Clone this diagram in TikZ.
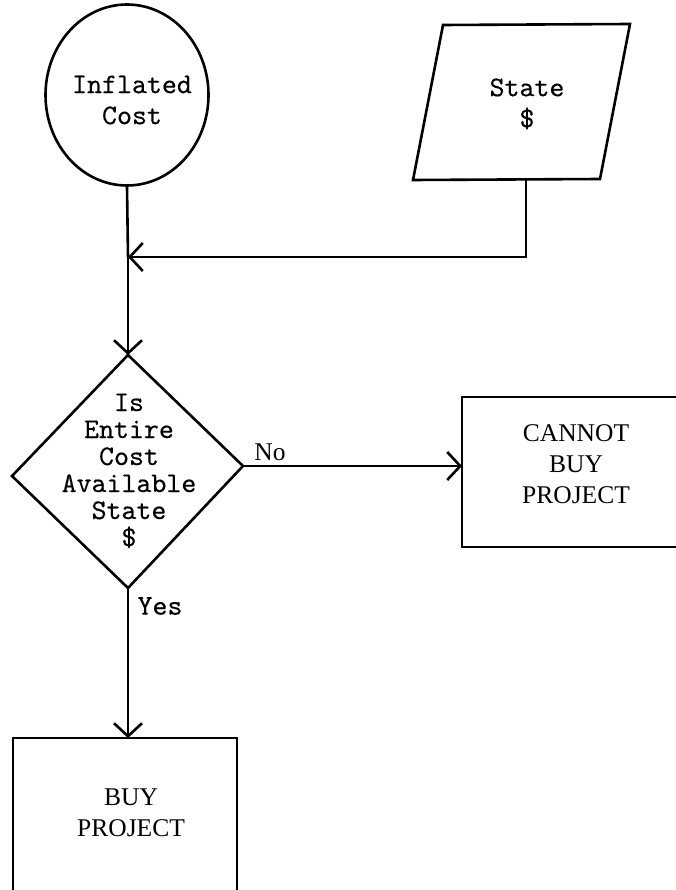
\documentclass[tikz,border=0pt]{standalone}
\usepackage{fontspec}
\usetikzlibrary{arrows.meta,shapes.geometric}
\newfontfamily\twfont[FakeBold=0.3]{lmmono10-regular.otf}
\newfontfamily\srfont{Liberation Serif}
\tikzset{
  shapeline/.style={draw=black, line width=2.6pt, line join=miter},
  conn/.style={draw=black, line width=2.6pt, -{Straight Barb[length=13pt,width=28pt]}},
  plain/.style={draw=black, line width=2.6pt},
  twtext/.style={font=\twfont\fontsize{28.5}{27}\selectfont, align=center, inner sep=0pt},
  twtextb/.style={font=\twfont\fontsize{28.5}{31}\selectfont, align=center, inner sep=0pt},
  srtext/.style={font=\srfont\fontsize{25.5}{31}\selectfont, align=center, inner sep=0pt},
}
\begin{document}
\begin{tikzpicture}[x=1pt,y=-1pt]
\useasboundingbox[fill=white] (0,0) rectangle (675,890);

% Inflated cost circle
\node[shapeline, ellipse, minimum width=163pt, minimum height=181pt, inner sep=0pt] (cost) at (127,95) {};
\node[twtextb] (costtxt) at (132,100) {Inflated\\Cost};

% State $ parallelogram
\coordinate (ptl) at (443,25);
\coordinate (ptr) at (630,24);
\coordinate (pbr) at (600,179);
\coordinate (pbl) at (413,180);
\draw[shapeline] (ptl) -- (ptr) -- (pbr) -- (pbl) -- cycle;
\node[twtextb] (statetxt) at (527,104) {State\\\$};
\coordinate (pout) at (526,179.5);
\coordinate (pcorner) at (526,257);
\coordinate (junc) at (128,257);

% Decision diamond
\coordinate (dtop) at (128,355);
\coordinate (dright) at (243,466);
\coordinate (dbot) at (128,588);
\coordinate (dleft) at (12,476);
\draw[shapeline] (dtop) -- (dright) -- (dbot) -- (dleft) -- cycle;
\node[twtext] (dtxt) at (129,471) {Is\\Entire\\Cost\\Available\\State\\\$};

% Cannot buy box
\coordinate (cl) at (462,466);
\draw[shapeline] (690,397) -- (462,397) -- (462,547) -- (690,547);
\node[srtext] (cannot) at (576,464) {CANNOT\\BUY\\PROJECT};

% Buy box
\coordinate (btop) at (128,738);
\draw[shapeline] (13,895) -- (13,738) -- (237,738) -- (237,895);
\node[srtext] (buy) at (131,813) {BUY\\PROJECT};

% connectors
\draw[plain] (cost.south) -- (junc);
\draw[conn] (junc) -- (dtop);
\draw[conn] (pout) -- (pcorner) -- (junc);
\draw[conn] (dright) -- (cl);
\draw[conn] (dbot) -- (btop);

% labels
\node[srtext] (nolbl) at (270,452) {No};
\node[twtext] (yeslbl) at (160,606) {Yes};
\end{tikzpicture}
\end{document}
